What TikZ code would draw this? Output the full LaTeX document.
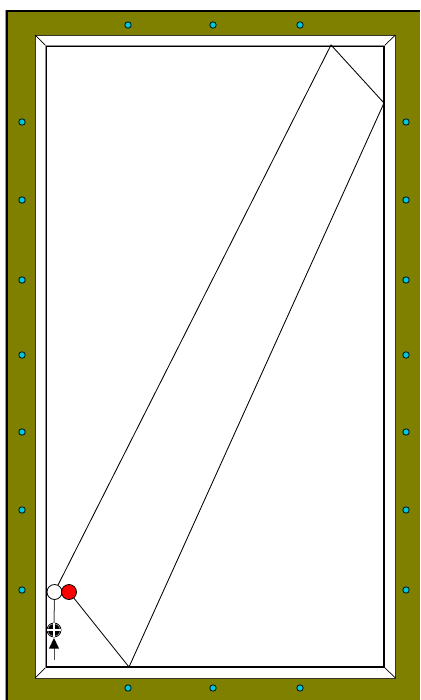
\documentclass[tikz,border=0pt]{standalone}
\usepackage{tikz}
\usetikzlibrary{arrows.meta,positioning,calc}

\definecolor{felt}{RGB}{128,128,0}
\definecolor{pincyan}{RGB}{0,200,216}

\tikzset{
  pin/.style={circle, draw=black!75!teal, fill=pincyan, line width=0.9pt, inner sep=0pt, minimum size=6.4pt},
  ball/.style={circle, draw=black, line width=0.8pt, inner sep=0pt, minimum size=15pt},
  aimer/.style={circle, draw=black, fill=white, line width=0.8pt, inner sep=0pt, minimum size=14pt},
  track/.style={draw=black, line width=0.85pt}
}

\begin{document}
\begin{tikzpicture}[x=1pt,y=-1pt]
  \useasboundingbox (0,0) rectangle (420,700);
  % table
  \fill[black!40] (4.5,10) rectangle (420,700);
  \fill[black] (5.5,10.5) rectangle (420,700);
  \fill[felt] (7.5,12.5) rectangle (420,700);
  \filldraw[fill=white, draw=black!80!olive, line width=0.8pt] (35,35) rectangle (395.5,678);
  % corners
  \coordinate (OTL) at (35,35);
  \coordinate (OTR) at (395.5,35);
  \coordinate (OBL) at (35,678);
  \coordinate (OBR) at (395.5,678);
  \coordinate (ITL) at (46,46);
  \coordinate (ITR) at (384,46);
  \coordinate (IBL) at (46,667);
  \coordinate (IBR) at (384,667);
  \draw[line width=0.7pt] (OTL) -- (ITL);
  \draw[line width=0.7pt] (OTR) -- (ITR);
  \draw[line width=0.7pt] (OBL) -- (IBL);
  \draw[line width=0.7pt] (OBR) -- (IBR);
  \draw[black!45, line width=1pt] (45.5,667.5) -- (45.5,45.5) -- (384.5,45.5);
  \draw[black, line width=1.4pt] (46.7,667) -- (46.7,46.7) -- (384,46.7) -- (384,667) -- cycle;
  % pins
  \foreach \x/\n in {128/a,213/b,300/c} {
    \node[pin] (top\n) at (\x,25) {};
    \node[pin] (bot\n) at (\x,688) {};
  }
  \foreach \y/\n in {122/a,200/b,280/c,355/d,432/e,510/f,590/g} {
    \node[pin] (lft\n) at (22,\y) {};
    \node[pin] (rgt\n) at (406,\y) {};
  }
  % path of the ball
  \coordinate (P1) at (331,45);
  \coordinate (P2) at (384,103);
  \coordinate (P3) at (129,667);
  \coordinate (S) at (54,660);
  \node[ball, fill=white] (W) at (54.5,592) {};
  \node[ball, fill=red] (R) at (69,592) {};
  \node[aimer] (A) at (54,630) {};
  \draw[track] (W) -- (P1) -- (P2) -- (P3) -- (R);
  \draw[black!70, line width=1pt] (W) -- (A);
  \draw[black!70, line width=1pt] (S) -- (54,648);
  % aimer marks
  \fill[black] (A.center) circle (6pt);
  \fill[white] ($(A.center)+(-1.4,-6.6)$) rectangle ($(A.center)+(1.4,6.6)$);
  \fill[white] ($(A.center)+(-6.6,-1.4)$) rectangle ($(A.center)+(6.6,1.4)$);
  \fill[black] (54,638) -- (59,648.5) -- (49,648.5) -- cycle;
\end{tikzpicture}
\end{document}
